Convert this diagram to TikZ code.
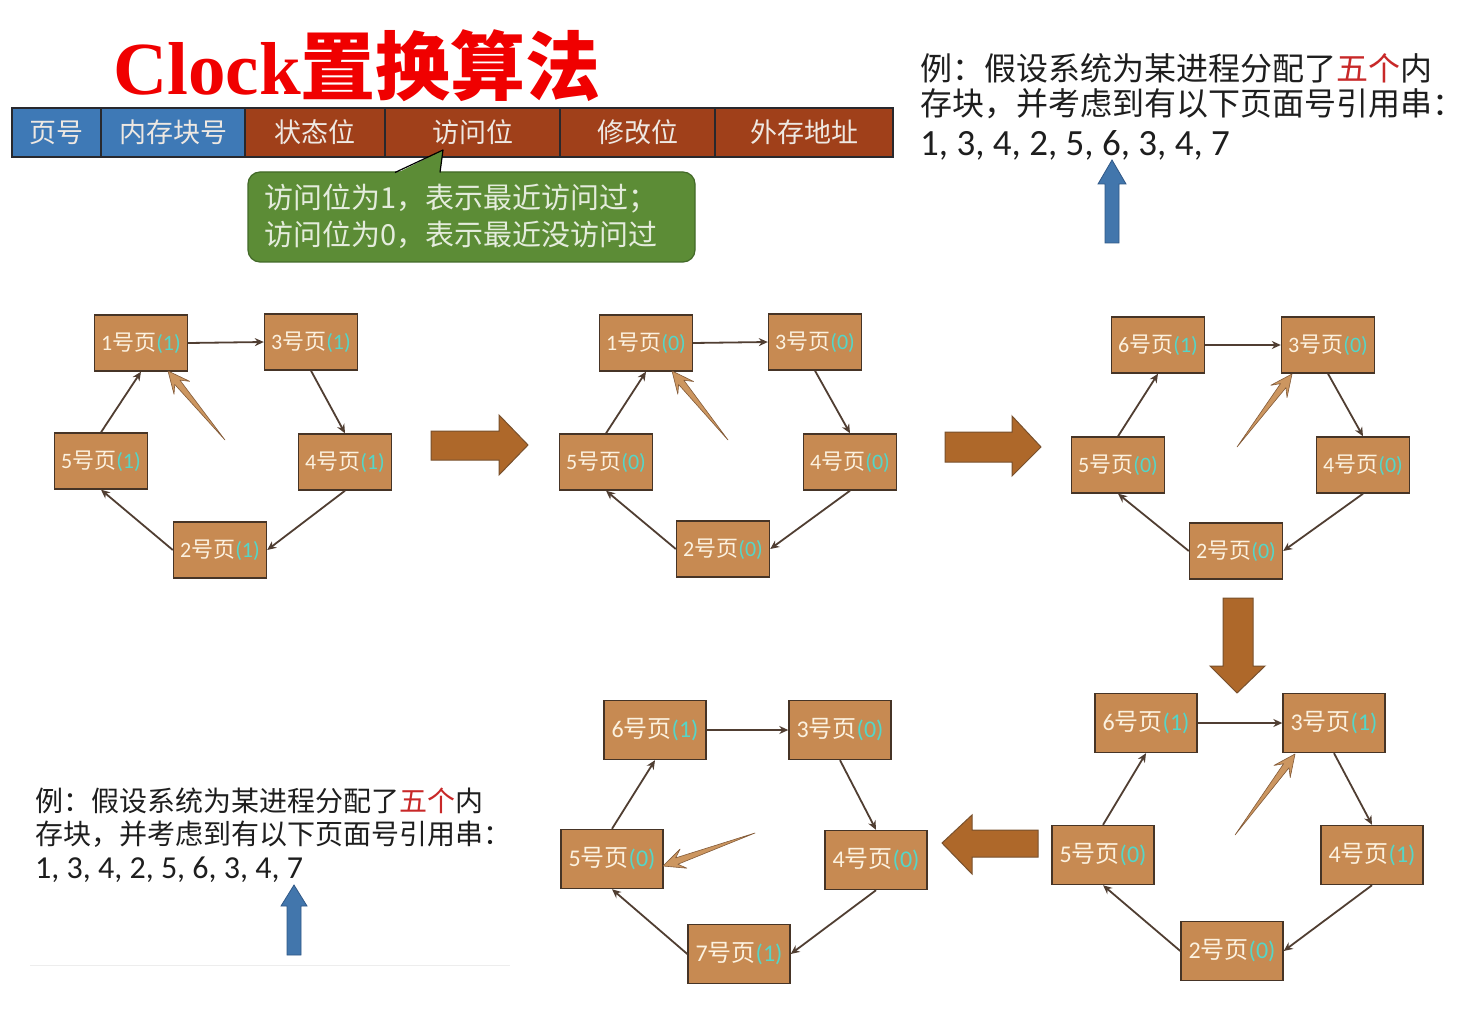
\documentclass[tikz,border=0pt]{standalone}
\usepackage{fontspec}
\setmainfont{Carlito}
\newfontfamily\cjk{Noto Sans CJK SC}
\newfontfamily\serifbold{Liberation Serif}
\usetikzlibrary{calc,arrows.meta}

\definecolor{titlered}{RGB}{240,0,0}
\definecolor{cellblue}{RGB}{62,121,182}
\definecolor{cellred}{RGB}{160,64,26}
\definecolor{cellline}{RGB}{40,40,45}
\definecolor{celltext}{RGB}{238,232,226}
\definecolor{callgreen}{RGB}{92,140,54}
\definecolor{callline}{RGB}{66,105,40}
\definecolor{calltext}{RGB}{228,236,220}
\definecolor{pagefill}{RGB}{199,138,82}
\definecolor{pageline}{RGB}{70,52,38}
\definecolor{pagetext}{RGB}{252,242,224}
\definecolor{bitteal}{RGB}{84,214,200}
\definecolor{edgecol}{RGB}{80,62,50}
\definecolor{ptrfill}{RGB}{204,150,96}
\definecolor{ptrline}{RGB}{130,90,56}
\definecolor{bigfill}{RGB}{174,104,42}
\definecolor{bigline}{RGB}{120,80,45}
\definecolor{cuefill}{RGB}{66,118,172}
\definecolor{cueline}{RGB}{48,88,135}
\definecolor{extext}{RGB}{30,30,30}
\definecolor{exred}{RGB}{200,40,40}

% page label: number, 号页, reference bit in teal
\newcommand\pg[2]{#1{\cjk 号页}\textcolor{bitteal}{(#2)}}

% the five clock edges of one ring: a -> b -> c -> d -> e -> a
\newcommand\ringedges[1]{%
  \draw[edge] (#1a.east) -- (#1b.west);
  \draw[edge] (#1b.south) -- (#1c.north);
  \draw[edge] (#1c.south) -- (#1d.east);
  \draw[edge] (#1d.west) -- (#1e.south);
  \draw[edge] (#1e.north) -- (#1a.south);}

% the clock hand: a thin wedge from tail #1 to tip #2
\newcommand\hand[2]{%
  \filldraw[ptr] (#1) -- ($(#2)!15pt!13:(#1)$) -- ($(#2)!24pt!25:(#1)$) -- (#2)
    -- ($(#2)!24pt!-25:(#1)$) -- ($(#2)!15pt!-13:(#1)$) -- cycle;}

\tikzset{
  cell/.style={draw=cellline, line width=1.6pt, text=celltext, minimum height=49pt,
    inner sep=0pt, font=\cjk\fontsize{27}{30}\selectfont},
  page/.style={draw=pageline, line width=1.4pt, fill=pagefill, text=pagetext,
    minimum width=93pt, minimum height=56pt, inner sep=0pt, font=\fontsize{22}{26}\selectfont},
  pagebig/.style={page, minimum width=102pt, minimum height=59pt, font=\fontsize{24}{28}\selectfont},
  edge/.style={draw=edgecol, line width=1.8pt, -{Stealth[length=9pt,width=8pt]}},
  ptr/.style={fill=ptrfill, draw=ptrline, line width=0.6pt, line join=round},
  bigarrow/.style={fill=bigfill, draw=bigline, line width=1pt, line join=miter},
  cue/.style={fill=cuefill, draw=cueline, line width=0.8pt},
  exline/.style={anchor=base west, inner sep=0pt, text=extext},
  callline/.style={anchor=base west, inner sep=0pt, text=calltext, font=\cjk\fontsize{29}{37}\selectfont},
}

\begin{document}
\begin{tikzpicture}[x=1pt,y=-1pt]
\useasboundingbox[fill=white] (0,0) rectangle (1466,1024);

% ---- title ----
\node[anchor=base west, inner sep=0pt, text=titlered] (title) at (113,95)
  {{\serifbold\bfseries\fontsize{75}{80}\selectfont Clock}{\cjk\bfseries\fontsize{75}{80}\selectfont 置换算法}};

% ---- page table entry ----
\node[cell, fill=cellblue, minimum width=89pt]  (t1) at (56.5,132.5) {页号};
\node[cell, fill=cellblue, minimum width=144pt] (t2) at (173,132.5) {内存块号};
\node[cell, fill=cellred,  minimum width=140pt] (t3) at (315,132.5) {状态位};
\node[cell, fill=cellred,  minimum width=175pt] (t4) at (472.5,132.5) {访问位};
\node[cell, fill=cellred,  minimum width=155pt] (t5) at (637.5,132.5) {修改位};
\node[cell, fill=cellred,  minimum width=178pt] (t6) at (804,132.5) {外存地址};

% ---- callout explaining the reference bit ----
\node[draw=callline, line width=1.2pt, fill=callgreen, rounded corners=12pt,
  minimum width=447pt, minimum height=90pt, inner sep=0pt] (call) at (471.5,217) {};
\fill[callgreen] (395,174) -- (443,150) -- (440,174) -- cycle;
\draw[callline, line width=1.2pt, line join=round] (395,172.5) -- (443,150) -- (440,172.5);
\node[callline] (callA) at (264,209) {访问位为1，表示最近访问过；};
\node[callline] (callB) at (264,246) {访问位为0，表示最近没访问过};

% ---- reference string, top right ----
\node[exline, font=\cjk\fontsize{32}{36}\selectfont] (ex1a) at (920,81)
  {例：假设系统为某进程分配了\textcolor{exred}{五个}内};
\node[exline, font=\cjk\fontsize{32}{36}\selectfont] (ex1b) at (920,116)
  {存块，并考虑到有以下页面号引用串：};
\node[exline, font=\fontsize{37}{40}\selectfont] (ex1c) at (920,156)
  {1, 3, 4, 2, 5, 6, 3, 4, 7};
\filldraw[cue] (1105,243) -- (1105,184) -- (1098,184) -- (1112,160) -- (1126,184) -- (1119,184) -- (1119,243) -- cycle;

% ---- reference string, bottom left ----
\node[exline, font=\cjk\fontsize{28}{32}\selectfont] (ex2a) at (35,811)
  {例：假设系统为某进程分配了\textcolor{exred}{五个}内};
\node[exline, font=\cjk\fontsize{28}{32}\selectfont] (ex2b) at (35,844)
  {存块，并考虑到有以下页面号引用串：};
\node[exline, font=\fontsize{32}{36}\selectfont] (ex2c) at (35,878)
  {1, 3, 4, 2, 5, 6, 3, 4, 7};
\filldraw[cue] (287,955) -- (287,906) -- (281,906) -- (294,885) -- (307,906) -- (301,906) -- (301,955) -- cycle;
\draw[black!7, line width=1pt] (30,965) -- (510,965);

% ---- ring 1: all bits set ----
\node[page] (Aa) at (141,343) {\pg{1}{1}};
\node[page] (Ab) at (311,342) {\pg{3}{1}};
\node[page] (Ac) at (345,462) {\pg{4}{1}};
\node[page] (Ad) at (220,550) {\pg{2}{1}};
\node[page] (Ae) at (101,461) {\pg{5}{1}};
\ringedges{A}
\coordinate (Atail) at (225,440);
\coordinate (Atip) at (168,371);
\hand{Atail}{Atip}

% ---- ring 2: one full sweep clears all bits ----
\node[page] (Ba) at (646,343) {\pg{1}{0}};
\node[page] (Bb) at (815,342) {\pg{3}{0}};
\node[page] (Bc) at (850,462) {\pg{4}{0}};
\node[page] (Bd) at (723,549) {\pg{2}{0}};
\node[page] (Be) at (606,462) {\pg{5}{0}};
\ringedges{B}
\coordinate (Btail) at (728,440);
\coordinate (Btip) at (672,371);
\hand{Btail}{Btip}

% ---- ring 3: page 6 replaces page 1 ----
\node[page] (Ca) at (1158,345) {\pg{6}{1}};
\node[page] (Cb) at (1328,345) {\pg{3}{0}};
\node[page] (Cc) at (1363,465) {\pg{4}{0}};
\node[page] (Cd) at (1236,551) {\pg{2}{0}};
\node[page] (Ce) at (1118,465) {\pg{5}{0}};
\ringedges{C}
\coordinate (Ctail) at (1237,447);
\coordinate (Ctip) at (1292,374);
\hand{Ctail}{Ctip}

% ---- ring 4: pages 3 and 4 referenced again ----
\node[pagebig] (Da) at (1146,723) {\pg{6}{1}};
\node[pagebig] (Db) at (1334,723) {\pg{3}{1}};
\node[pagebig] (Dc) at (1372,855) {\pg{4}{1}};
\node[pagebig] (Dd) at (1232,951) {\pg{2}{0}};
\node[pagebig] (De) at (1103,855) {\pg{5}{0}};
\ringedges{D}
\coordinate (Dtail) at (1235,835);
\coordinate (Dtip) at (1295,754);
\hand{Dtail}{Dtip}

% ---- ring 5: page 7 replaces page 2 ----
\node[pagebig] (Ea) at (655,730) {\pg{6}{1}};
\node[pagebig] (Eb) at (840,730) {\pg{3}{0}};
\node[pagebig] (Ec) at (876,860) {\pg{4}{0}};
\node[pagebig] (Ed) at (739,954) {\pg{7}{1}};
\node[pagebig] (Ee) at (612,859) {\pg{5}{0}};
\ringedges{E}
\coordinate (Etail) at (755,833);
\coordinate (Etip) at (663,866);
\hand{Etail}{Etip}

% ---- block arrows between the steps ----
\filldraw[bigarrow] (431,431) -- (499,431) -- (499,415) -- (528,445) -- (499,475) -- (499,460) -- (431,460) -- cycle;
\filldraw[bigarrow] (945,432) -- (1012,432) -- (1012,416) -- (1041,447) -- (1012,476) -- (1012,462) -- (945,462) -- cycle;
\filldraw[bigarrow] (1223,598) -- (1253,598) -- (1253,666) -- (1265,666) -- (1237,693) -- (1210,666) -- (1223,666) -- cycle;
\filldraw[bigarrow] (1038,830) -- (972,830) -- (972,815) -- (942,843) -- (972,874) -- (972,857) -- (1038,857) -- cycle;

\end{tikzpicture}
\end{document}
